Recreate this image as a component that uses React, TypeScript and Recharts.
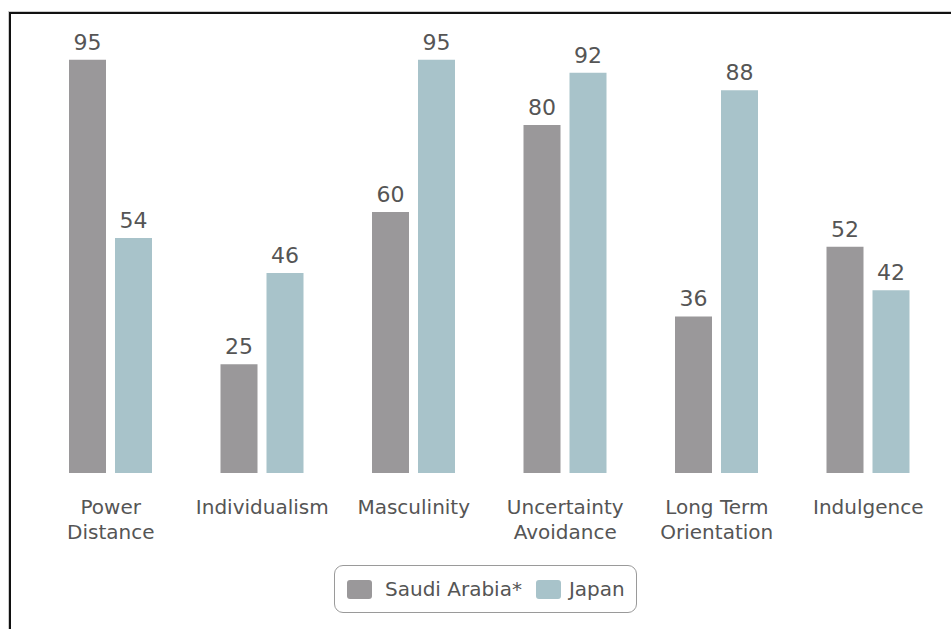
import React from 'react';
import { BarChart, Bar, XAxis, YAxis, LabelList } from 'recharts';

const categories = [
  'Power\nDistance',
  'Individualism',
  'Masculinity',
  'Uncertainty\nAvoidance',
  'Long Term\nOrientation',
  'Indulgence',
];
const saudiArabia = [95, 25, 60, 80, 36, 52];
const japan = [54, 46, 95, 92, 88, 42];

const GRAY = '#9a989a';
const BLUE = '#a8c3ca';
const TEXT = '#555555';
const FONT = '"DejaVu Sans", Verdana, sans-serif';

const data = categories.map((name, i) => ({
  name,
  saudi: saudiArabia[i],
  japan: japan[i],
}));

const CategoryTick = (props: any) => {
  const { x, y, payload } = props;
  const lines = String(payload.value).split('\n');
  return (
    <text x={x} y={y} textAnchor="middle" fill={TEXT} fontSize={20} fontFamily={FONT}>
      {lines.map((line, i) => (
        <tspan key={i} x={x} dy={i === 0 ? 14 : 25}>
          {line}
        </tspan>
      ))}
    </text>
  );
};

const LegendBox = () => (
  <div
    style={{
      position: 'absolute',
      left: 334,
      top: 565,
      width: 303,
      height: 48,
      border: '1px solid #9a9a9a',
      borderRadius: 9,
      boxSizing: 'border-box',
      display: 'flex',
      alignItems: 'center',
      fontFamily: FONT,
      fontSize: 20,
      color: TEXT,
    }}
  >
    <span style={{ display: 'inline-block', width: 25, height: 19, background: GRAY, borderRadius: 3, marginLeft: 12 }} />
    <span style={{ marginLeft: 13 }}>Saudi Arabia*</span>
    <span style={{ display: 'inline-block', width: 25, height: 19, background: BLUE, borderRadius: 3, marginLeft: 14 }} />
    <span style={{ marginLeft: 8 }}>Japan</span>
  </div>
);

export default function App() {
  return (
    <div style={{ position: 'absolute', left: 0, top: 0, width: 951, height: 629, background: '#fff', overflow: 'hidden' }}>
      <div
        style={{
          position: 'absolute',
          left: 9,
          top: 12,
          width: 960,
          height: 640,
          borderLeft: '2px solid #111',
          borderTop: '2px solid #111',
          boxShadow: '-1px -1px 0 #ccc',
        }}
      />
      <div style={{ position: 'absolute', left: 0, top: 0 }}>
        <BarChart
          width={951}
          height={629}
          data={data}
          margin={{ top: 38, right: 7, left: 35, bottom: 0 }}
          barSize={37}
          barGap={9}
        >
          <XAxis
            dataKey="name"
            height={156}
            axisLine={false}
            tickLine={false}
            tickSize={0}
            tickMargin={27}
            interval={0}
            tick={<CategoryTick />}
          />
          <YAxis hide domain={[0, 100]} />
          <Bar dataKey="saudi" fill={GRAY} isAnimationActive={false}>
            <LabelList dataKey="saudi" position="top" offset={10} fill={TEXT} fontSize={22} fontFamily={FONT} />
          </Bar>
          <Bar dataKey="japan" fill={BLUE} isAnimationActive={false}>
            <LabelList dataKey="japan" position="top" offset={10} fill={TEXT} fontSize={22} fontFamily={FONT} />
          </Bar>
        </BarChart>
      </div>
      <LegendBox />
    </div>
  );
}
